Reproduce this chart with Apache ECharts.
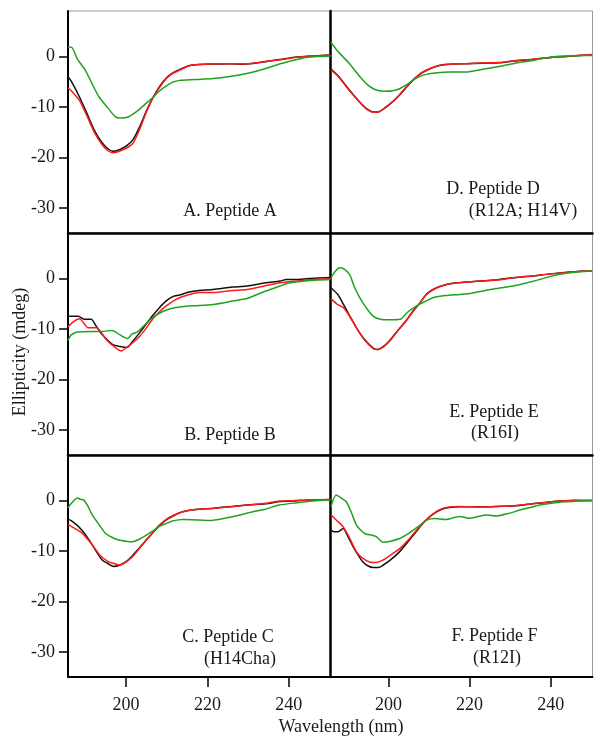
<!DOCTYPE html>
<html>
<head>
<meta charset="utf-8">
<script src="https://cdn.jsdelivr.net/npm/echarts@6/dist/echarts.min.js"></script>
<style>
html,body{margin:0;padding:0;background:#fff;}
#chart{width:602px;height:746px;}
</style>
</head>
<body>
<div id="chart"></div>
<script>
// ---- Tick values ----
const wavelengthTicks = [200, 220, 240];
const ellipticityTicks = [0, -10, -20, -30];
const xRange = [185.7, 250.3];
const yRange = [-35, 9];

// ---- Panel labels ----
const panelTitles = ['A. Peptide A', 'B. Peptide B', 'C. Peptide C', 'D. Peptide D', 'E. Peptide E', 'F. Peptide F'];
const panelSubtitles = ['', '', '(H14Cha)', '(R12A; H14V)', '(R16I)', '(R12I)'];
const xAxisTitle = 'Wavelength (nm)';
const yAxisTitle = 'Ellipticity (mdeg)';

// ---- Data: [wavelength nm, ellipticity mdeg] ----
const A_black = [[185.7,-4.0],[186.5,-4.9],[188.5,-8.0],[190.2,-11.0],[191.8,-14.0],[193,-15.8],[194.3,-17.3],[195.5,-18.3],[196.7,-18.8],[198,-18.6],[200,-17.8],[201.7,-16.5],[203.3,-14.0],[205,-10.8],[206.5,-8.3],[208.3,-5.9],[210,-4.2],[211.6,-3.2],[213.2,-2.6],[215.7,-1.8],[218,-1.6],[222,-1.5],[225.6,-1.45],[229,-1.55],[233,-1.2],[237.9,-0.6],[242,-0.1],[246,0.1],[250.3,0.3]];
const A_red = [[185.7,-6.2],[186.5,-6.8],[188.5,-8.7],[190.2,-11.5],[191.8,-14.4],[193,-16.2],[194.3,-17.7],[195.5,-18.7],[196.7,-19.1],[198,-18.9],[200,-18.2],[201.7,-17.2],[203.3,-14.5],[205,-11.0],[206.5,-8.4],[208.3,-6.1],[210,-4.3],[211.6,-3.3],[213.2,-2.7],[215.7,-1.8],[218,-1.6],[222,-1.45],[225.6,-1.45],[229,-1.5],[233,-1.15],[237.9,-0.65],[242,-0.15],[246,0.1],[250.3,0.25]];
const A_green = [[185.7,1.85],[186.6,1.8],[188,-0.5],[190,-2.8],[191.5,-5.2],[193.3,-8.0],[195.5,-10.2],[197.4,-12.0],[198.6,-12.2],[200.5,-12.0],[202.8,-10.8],[204.5,-9.6],[206.5,-8.2],[208,-7.0],[209.8,-5.9],[211.5,-5.1],[213.2,-4.75],[217,-4.6],[221.4,-4.4],[225.5,-4.0],[229.7,-3.4],[234,-2.5],[237.9,-1.45],[241,-0.8],[244.3,-0.2],[247,0],[250.3,0.05]];

const B_black = [[185.7,-7.5],[188.2,-7.5],[189.8,-8.1],[191.4,-8.1],[192.6,-9.4],[194,-11.0],[196.7,-13.1],[198.5,-13.5],[200.2,-13.7],[201.5,-12.6],[203.3,-10.8],[205,-9.0],[206.5,-7.4],[208.2,-5.8],[209.8,-4.5],[211.5,-3.6],[213.2,-3.3],[215.5,-2.7],[218,-2.4],[221.4,-2.2],[226.2,-1.72],[229.7,-1.5],[234.4,-0.86],[237.9,-0.53],[239.4,-0.2],[242,-0.2],[244.3,-0.07],[247,0.1],[250.3,0.2]];
const B_red = [[185.7,-9.6],[187,-8.6],[188.5,-8.0],[190,-9.3],[190.6,-9.8],[192.7,-9.8],[195.1,-12.1],[197,-13.5],[198.8,-14.4],[200.2,-13.6],[201.7,-12.7],[203.3,-11.5],[205,-9.8],[206.5,-8.1],[208.2,-6.6],[209.8,-5.5],[212,-4.3],[213.9,-3.6],[218,-2.8],[221.4,-2.8],[226.2,-2.4],[229.7,-2.2],[234,-1.5],[237.9,-0.86],[242,-0.5],[246,-0.2],[250.3,-0.05]];
const B_green = [[185.7,-12.3],[186.5,-11.2],[188,-10.6],[191.7,-10.5],[194,-10.5],[196.6,-10.3],[198.5,-11.2],[200.3,-11.9],[201.5,-11.0],[202.8,-10.6],[204.5,-9.3],[206.5,-7.8],[208.2,-6.9],[209.8,-6.3],[212,-5.8],[214.7,-5.5],[217,-5.4],[221.4,-5.15],[226.2,-4.5],[229.7,-4.0],[232.8,-3.0],[235.5,-2.2],[237.9,-1.5],[240,-0.9],[244,-0.5],[247,-0.3],[250.3,-0.2]];

const C_black = [[185.7,-3.7],[186.5,-4.0],[188.3,-5.2],[190,-6.8],[191.7,-8.85],[194.1,-11.8],[195.5,-12.5],[197,-13.1],[198.5,-12.8],[199.9,-12.2],[201.5,-11.0],[203.2,-9.5],[204.8,-8.0],[206.5,-6.5],[208.2,-5.0],[209.8,-3.9],[211.8,-3.0],[213.9,-2.26],[217,-1.8],[221.4,-1.55],[226,-1.2],[229.7,-0.93],[235,-0.6],[237.9,-0.2],[241,-0.13],[245,0.1],[250.3,0.2]];
const C_red = [[185.7,-4.75],[187,-5.4],[189.2,-6.5],[191.7,-8.85],[193.5,-10.8],[195.7,-12.2],[197,-12.5],[198.2,-12.8],[199.5,-12.5],[201.5,-11.2],[203.2,-9.6],[204.8,-8.0],[206.5,-6.4],[208.2,-4.9],[209.8,-3.8],[211.8,-2.9],[213.9,-2.26],[217,-1.8],[221.4,-1.6],[226,-1.25],[229.7,-0.93],[235,-0.5],[237.9,-0.13],[241,-0.05],[245,0.1],[250.3,0.2]];
const C_green = [[185.7,-1.46],[186.5,-0.6],[188,0.5],[188.8,0.2],[189.6,0.06],[190.5,-1.0],[191.7,-2.9],[193,-4.4],[194.9,-6.5],[196.5,-7.3],[198.2,-7.86],[200,-8.1],[201.5,-8.2],[203,-7.8],[204.8,-7.0],[206.5,-6.1],[208.1,-5.2],[209.8,-4.6],[211.4,-4.1],[214,-3.8],[218,-3.9],[220.5,-4.0],[224.6,-3.5],[228,-2.9],[231.2,-2.26],[234,-1.8],[237.7,-0.93],[242,-0.46],[246,-0.1],[250.3,0.15]];

const D_black = [[185.8,-2.5],[187.5,-3.8],[190.4,-6.7],[192.9,-9.05],[194.5,-10.3],[196.2,-11.0],[197.5,-11.0],[199.4,-10.0],[201,-9.0],[202.7,-7.7],[204.3,-6.2],[206,-4.75],[207.6,-3.6],[209.3,-2.8],[211.3,-2.1],[213.4,-1.65],[216,-1.5],[219.1,-1.45],[223,-1.35],[227.3,-1.25],[231,-0.9],[235.5,-0.6],[240,-0.2],[244,0],[248.6,0.3],[250.2,0.35]];
const D_red = [[185.8,-2.7],[187.5,-3.9],[190.4,-6.8],[192.9,-9.1],[194.5,-10.4],[196.2,-11.05],[197.5,-11.0],[199.4,-10.1],[201,-9.0],[202.7,-7.6],[204.3,-6.1],[206,-4.7],[207.6,-3.55],[209.3,-2.75],[211.3,-2.1],[213.4,-1.7],[216,-1.5],[219.1,-1.45],[223,-1.3],[227.3,-1.2],[231,-0.85],[235.5,-0.55],[240,-0.2],[244,0.05],[248.6,0.3],[250.2,0.4]];
const D_green = [[185.8,2.8],[187.5,1.0],[190.4,-1.45],[192.5,-3.6],[194.5,-5.4],[196.5,-6.5],[199,-6.9],[201,-6.8],[202.7,-6.4],[204.5,-5.6],[206,-4.75],[207.6,-4.0],[209.3,-3.56],[212,-3.25],[215,-3.1],[219.1,-3.1],[223,-2.6],[227.3,-2.0],[231,-1.4],[235.5,-0.8],[238,-0.4],[241.2,0],[245,0.1],[248.6,0.2],[250.2,0.2]];

const E_black = [[185.8,-1.85],[187.5,-3.2],[188.9,-5.15],[190.5,-7.5],[192.1,-9.8],[194,-12.0],[196.2,-13.8],[197.2,-14.1],[198.7,-13.5],[200.2,-12.4],[202.2,-10.4],[204.3,-8.45],[206,-6.5],[207.8,-4.8],[209.5,-3.0],[211.7,-1.9],[214.3,-1.2],[216.6,-0.86],[222.5,-0.53],[227.3,-0.2],[230.7,0.13],[235.5,0.46],[238.9,0.8],[244,1.2],[248.6,1.45],[250.2,1.5]];
const E_red = [[185.8,-4.0],[187.5,-5.2],[188.9,-5.8],[190.5,-7.6],[192.1,-9.8],[194,-12.1],[196.2,-13.9],[197.2,-14.1],[198.7,-13.6],[200.2,-12.5],[202.2,-10.5],[204.3,-8.4],[206,-6.6],[207.8,-4.8],[209.5,-3.1],[211.7,-1.95],[214.3,-1.2],[216.6,-0.9],[222.5,-0.53],[227.3,-0.25],[230.7,0.13],[235.5,0.5],[238.9,0.8],[244,1.15],[248.6,1.45],[250.2,1.5]];
const E_green = [[185.8,0.1],[187,1.5],[188,2.1],[189,1.9],[190.4,0.8],[191.5,-1.5],[192.9,-3.8],[194.5,-5.8],[196.2,-7.46],[198,-8.1],[200,-8.2],[202.9,-8.1],[204.3,-7.0],[205.5,-6.2],[207.6,-5.15],[209.5,-4.4],[211.1,-3.8],[214,-3.4],[217.6,-3.17],[220,-3.0],[222.5,-2.6],[226.5,-2.0],[230.7,-1.5],[234,-0.9],[237.3,-0.2],[240,0.4],[243.8,1.0],[247,1.3],[250.2,1.45]];

const F_black = [[185.8,-5.9],[186.5,-6.2],[187.6,-6.2],[188.8,-5.55],[190,-7.2],[191.3,-9.2],[192.5,-10.8],[193.7,-12.2],[195,-13.0],[196.2,-13.3],[197.5,-13.3],[198.7,-12.8],[200.5,-11.8],[202.7,-10.2],[204.8,-8.2],[206.8,-6.2],[208.8,-4.3],[210.9,-2.77],[213,-1.8],[215,-1.39],[217.6,-1.26],[223.2,-1.26],[226.6,-1.2],[231.4,-1.06],[235,-0.7],[238.9,-0.4],[242.2,-0.13],[246,0.0],[250.2,0.0]];
const F_red = [[185.8,-2.77],[187,-3.8],[188.8,-5.2],[190.5,-7.6],[192.1,-10.2],[193.7,-11.5],[195.3,-12.2],[197,-12.3],[198.5,-11.9],[201.1,-10.5],[202.7,-9.6],[204.8,-7.9],[206.8,-6.0],[208.8,-4.2],[210.9,-2.7],[213,-1.7],[215,-1.3],[217.6,-1.2],[223.2,-1.3],[226.6,-1.2],[231.4,-1.0],[235,-0.7],[238.9,-0.35],[242.2,-0.1],[246,0.05],[250.2,0.0]];
const F_green = [[185.8,-1.3],[187.1,1.05],[188.3,0.5],[189.6,-0.26],[190.8,-2.3],[192.1,-4.9],[193.3,-6.0],[194.5,-6.7],[196,-6.9],[197,-7.2],[198.7,-8.3],[200.5,-8.1],[202.9,-7.5],[204.5,-6.8],[206.1,-5.9],[207.8,-4.9],[209.4,-3.9],[211.5,-3.6],[214,-3.8],[217.6,-3.2],[220.1,-3.56],[222,-3.2],[224.2,-2.9],[226.6,-3.1],[229.5,-2.6],[232.4,-1.92],[235,-1.4],[237.3,-0.93],[240.5,-0.5],[243.8,-0.26],[247,-0.1],[250.2,0]];

const panelData = [
  [A_black, A_red, A_green],
  [B_black, B_red, B_green],
  [C_black, C_red, C_green],
  [D_black, D_red, D_green],
  [E_black, E_red, E_green],
  [F_black, F_red, F_green]
];

// ---- Layout / style ----
const lineColors = ['#111111', '#ff1a1a', '#1fa31f'];
const serif = '"Liberation Serif", "DejaVu Serif", serif';
const textColor = '#1a1a1a';
const colLeft = [68, 330.5];
const colWidth = [262.5, 262];
const rowTop = [11, 233, 455];
const rowHeight = 222;

const grids = [], xAxes = [], yAxes = [], series = [];
for (let p = 0; p < 6; p++) {
  const col = p < 3 ? 0 : 1;
  const row = p % 3;
  grids.push({
    left: colLeft[col], top: rowTop[row], width: colWidth[col], height: rowHeight,
    show: true, borderColor: '#9a9a9a', borderWidth: 1, backgroundColor: 'transparent',
    containLabel: false, outerBoundsMode: 'none'
  });
  const bottomRow = row === 2;
  xAxes.push({
    type: 'value', gridIndex: p, min: xRange[0], max: xRange[1],
    splitLine: { show: false },
    axisLine: { show: true, onZero: false, lineStyle: { color: '#000', width: bottomRow ? 2 : 2.5 } },
    axisTick: { show: bottomRow, customValues: wavelengthTicks, length: 10, lineStyle: { color: '#000', width: 1.5 } },
    axisLabel: { show: bottomRow, customValues: wavelengthTicks, margin: 19, color: textColor, fontFamily: serif, fontSize: 18 }
  });
  const leftCol = col === 0;
  yAxes.push({
    type: 'value', gridIndex: p, min: yRange[0], max: yRange[1],
    splitLine: { show: false },
    axisLine: { show: true, onZero: false, lineStyle: { color: '#000', width: leftCol ? 2 : 2.5 } },
    axisTick: { show: leftCol, customValues: ellipticityTicks, length: 9, lineStyle: { color: '#000', width: 1.5 } },
    axisLabel: { show: leftCol, customValues: ellipticityTicks, margin: 13, color: textColor, fontFamily: serif, fontSize: 18 }
  });
  panelData[p].forEach((d, k) => {
    series.push({
      type: 'line', xAxisIndex: p, yAxisIndex: p, data: d,
      showSymbol: false, symbol: 'none', smooth: 0.25, silent: true,
      lineStyle: { color: lineColors[k], width: 1.5 }, z: 2 + k
    });
  });
}

const labelPos = [
  [[230, 211]],
  [[230, 435]],
  [[228, 637], [240, 659]],
  [[493, 189], [523, 211]],
  [[494, 412], [495, 433]],
  [[494.5, 636], [497, 658]]
];
const graphics = [];
for (let p = 0; p < 6; p++) {
  const texts = [panelTitles[p], panelSubtitles[p]];
  labelPos[p].forEach((pos, i) => {
    graphics.push({
      type: 'text', x: pos[0], y: pos[1], silent: true,
      style: { text: texts[i], font: '18px ' + serif, fill: textColor, align: 'center', verticalAlign: 'middle' }
    });
  });
}
graphics.push({
  type: 'text', x: 341, y: 727, silent: true,
  style: { text: xAxisTitle, font: '18px ' + serif, fill: textColor, align: 'center', verticalAlign: 'middle' }
});
graphics.push({
  type: 'text', x: 20, y: 352, rotation: Math.PI / 2, silent: true,
  style: { text: yAxisTitle, font: '18px ' + serif, fill: textColor, align: 'center', verticalAlign: 'middle' }
});

const chart = echarts.init(document.getElementById('chart'), null, { renderer: 'canvas' });
chart.setOption({
  animation: false,
  backgroundColor: '#ffffff',
  grid: grids,
  xAxis: xAxes,
  yAxis: yAxes,
  series: series,
  graphic: graphics
});
</script>
</body>
</html>
